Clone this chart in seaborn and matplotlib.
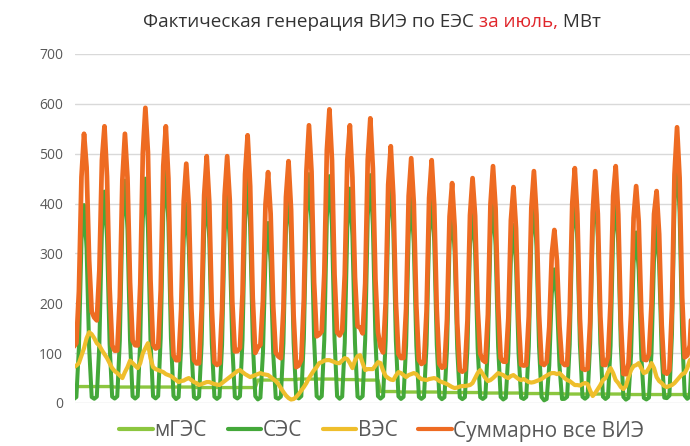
import numpy as np
import pandas as pd
import matplotlib
matplotlib.use("Agg")
import matplotlib.pyplot as plt
import seaborn as sns

# ---------------- data ----------------
days = list(range(1, 32))
step_hours = [0, 3, 6, 9, 12, 15, 18, 21]

# normalised daily shape of solar output (3-hour samples)
ses_profile = [0.02, 0.03, 0.28, 0.82, 1.0, 0.78, 0.28, 0.03]
# daily solar peak, MW
ses_peak = [397, 424, 446, 450, 465, 400, 422, 416, 451, 361,
            428, 459, 455, 430, 457, 445, 411, 416, 388, 390,
            405, 357, 404, 268, 417, 427, 411, 342, 356, 490, 423]
# small hydro, MW per day
mges_daily = [33, 33, 32, 32, 32, 32, 31, 31, 31, 46,
              47, 48, 48, 47, 46, 23, 22, 22, 21, 21,
              20, 20, 19, 19, 18, 18, 18, 17, 17, 17, 17]
# wind, MW (3-hour samples per day)
ves_rows = [
    [72, 75, 80, 95, 110, 130, 142, 138],
    [130, 120, 115, 106, 98, 90, 80, 70],
    [64, 60, 55, 50, 62, 72, 85, 80],
    [75, 70, 80, 100, 110, 120, 90, 72],
    [68, 66, 64, 62, 58, 56, 54, 50],
    [46, 42, 44, 45, 48, 50, 46, 42],
    [40, 36, 38, 40, 42, 42, 40, 38],
    [37, 36, 40, 44, 48, 52, 56, 60],
    [64, 66, 62, 58, 55, 52, 54, 56],
    [58, 60, 58, 57, 56, 52, 48, 44],
    [38, 30, 22, 15, 10, 7, 8, 12],
    [18, 25, 32, 40, 50, 58, 66, 72],
    [80, 82, 85, 86, 86, 84, 82, 80],
    [80, 85, 90, 88, 80, 70, 85, 94],
    [96, 80, 66, 68, 68, 68, 75, 82],
    [80, 65, 54, 50, 47, 46, 55, 62],
    [60, 56, 52, 56, 58, 60, 58, 52],
    [48, 47, 46, 48, 49, 50, 48, 44],
    [42, 40, 38, 35, 32, 30, 31, 33],
    [34, 34, 35, 36, 40, 50, 60, 66],
    [58, 50, 44, 46, 50, 55, 60, 58],
    [56, 52, 50, 54, 56, 52, 48, 46],
    [48, 45, 42, 41, 42, 44, 46, 48],
    [52, 55, 58, 60, 60, 58, 60, 55],
    [50, 46, 44, 40, 36, 36, 35, 38],
    [40, 38, 25, 14, 20, 28, 36, 46],
    [50, 62, 70, 60, 46, 40, 32, 28],
    [34, 52, 66, 74, 76, 80, 70, 60],
    [62, 70, 80, 70, 52, 44, 40, 34],
    [32, 34, 36, 40, 46, 52, 58, 60],
    [70, 86, 90, 85, 80, 75, 70, 70],
]

series_names = ["мГЭС", "СЭС", "ВЭС", "Суммарно все ВИЭ"]
colors = ["#8cc63f", "#44a83a", "#efbe2c", "#ee6b22"]
widths = [2.4, 2.9, 3.0, 3.4]

# ---------------- assemble ----------------
n = len(days)
t = np.array([(d - 1) * 24 + h for d in days for h in step_hours], dtype=float)
ses = np.repeat(ses_peak, len(step_hours)) * np.tile(ses_profile, n)
mges = np.repeat(mges_daily, len(step_hours)).astype(float)
ves = np.array(ves_rows, dtype=float).ravel()
total = ses + mges + ves

df = pd.DataFrame({"t": t, series_names[0]: mges, series_names[1]: ses,
                   series_names[2]: ves, series_names[3]: total})

# ---------------- figure ----------------
sns.set_theme(style="white")
plt.rcParams["font.family"] = ["Open Sans", "DejaVu Sans"]

W, H = 690, 446
fig = plt.figure(figsize=(W / 100, H / 100), dpi=100)
ax = fig.add_axes([75 / W, (H - 403) / H, (690 - 75) / W, (403 - 54) / H])

for name, c, lw in zip(series_names, colors, widths):
    sns.lineplot(data=df, x="t", y=name, ax=ax, color=c, linewidth=lw,
                 label=name, legend=False, solid_joinstyle="round")

ax.set_ylim(0, 700)
ax.set_xlim(1.4, 723.2)
ax.set_yticks(range(0, 701, 100))
ax.set_xticks([])
ax.set_xlabel("")
ax.set_ylabel("")
ax.grid(axis="y", color="#d9d9d9", linewidth=1)
ax.set_axisbelow(True)
for s in ax.spines.values():
    s.set_visible(False)
ax.tick_params(axis="y", length=0, pad=8.5, labelsize=10, labelcolor="#595959")

# title with red fragment
parts = [("Фактическая генерация ВИЭ по ЕЭС ", "#333333"),
         ("за июль,", "#e0262b"),
         (" МВт", "#333333")]
fig.canvas.draw()
renderer = fig.canvas.get_renderer()
texts = []
for s, c in parts:
    tx = fig.text(0, 1 - 22 / H, s, color=c, fontsize=13.6, ha="left", va="center")
    texts.append(tx)
widths_px = [tx.get_window_extent(renderer).width for tx in texts]
total_w = sum(widths_px)
x0 = 372 - total_w / 2
for tx, w in zip(texts, widths_px):
    tx.set_x(x0 / W)
    x0 += w

handles = ax.get_lines()[:4]
leg = fig.legend(handles, series_names, loc="center", ncol=4,
                 bbox_to_anchor=(382 / W, 1 - 431 / H), frameon=False,
                 fontsize=15, handlelength=1.6, handletextpad=0.08,
                 columnspacing=1.0, labelcolor="#595959",
                 borderpad=0.1)
for lh in leg.get_lines():
    lh.set_linewidth(3)

fig.savefig("out.png", dpi=100)
